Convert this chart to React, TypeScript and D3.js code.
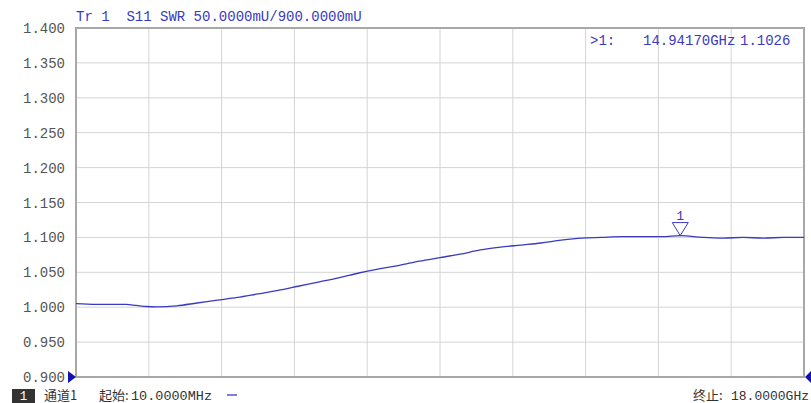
import * as d3 from "d3";

// trace data (GHz, SWR)
const freqs = [
  0.01, 0.5, 1.0, 1.25, 1.5, 1.75, 2.0, 2.5, 3.0, 3.5, 4.0, 4.5, 5.0, 5.5, 6.0, 6.5, 7.0, 7.5,
  8.0, 8.5, 9.0, 9.5, 10.0, 10.5, 11.0, 11.5, 12.0, 12.5, 13.0, 13.5, 14.0, 14.5, 14.9417,
  15.5, 16.0, 16.5, 17.0, 17.5, 18.0,
];
const swr = [
  1.005, 1.004, 1.004, 1.004, 1.0025, 1.001, 1.0005, 1.002, 1.006, 1.01, 1.014, 1.019, 1.024,
  1.03, 1.036, 1.042, 1.049, 1.055, 1.06, 1.066, 1.071, 1.076, 1.082, 1.086, 1.089, 1.092,
  1.096, 1.099, 1.1, 1.101, 1.101, 1.101, 1.1026, 1.1, 1.099, 1.1, 1.099, 1.1, 1.1,
];
const yTicks = [0.9, 0.95, 1.0, 1.05, 1.1, 1.15, 1.2, 1.25, 1.3, 1.35, 1.4];
const xDivisions = 10;
const markerFreq = 14.9417;
const markerVal = 1.1026;

const W = 811;
const H = 403;
const left = 76;
const right = 804;
const top = 28;
const bottom = 377;
const blue = "#3a3ac0";
const mono = "Liberation Mono, DejaVu Sans Mono, monospace";
const cjk = "Noto Sans CJK SC, sans-serif";

export default function App() {
  const x = d3.scaleLinear().domain([0.01, 18]).range([left, right]);
  const y = d3.scaleLinear().domain([0.9, 1.4]).range([bottom, top]);
  const xGrid = d3.range(1, xDivisions).map((i) => left + ((right - left) * i) / xDivisions);

  const line = d3
    .line<number>()
    .x((_, i) => x(freqs[i]))
    .y((d) => y(d))
    .curve(d3.curveMonotoneX);

  const mx = x(markerFreq);
  const my = y(markerVal);

  return (
    <svg
      width={W}
      height={H}
      style={{ position: "absolute", left: 0, top: 0, background: "#fff" }}
    >
      {/* grid */}
      {yTicks.slice(1, -1).map((t) => (
        <line key={t} x1={left} x2={right} y1={y(t)} y2={y(t)} stroke="#d4d4d4" />
      ))}
      {xGrid.map((gx) => (
        <line key={gx} x1={gx} x2={gx} y1={top} y2={bottom} stroke="#d4d4d4" />
      ))}
      <rect
        x={left}
        y={top}
        width={right - left}
        height={bottom - top}
        fill="none"
        stroke="#a8a8a8"
        strokeWidth={2}
      />

      {/* y tick labels */}
      {yTicks.map((t) => (
        <text
          key={t}
          x={65}
          y={y(t) + 5}
          textAnchor="end"
          style={{ fontFamily: mono, fontSize: 14 }}
          fill="#555"
        >
          {t.toFixed(3)}
        </text>
      ))}

      {/* header */}
      <text x={76} y={21} style={{ fontFamily: mono, fontSize: 14, whiteSpace: "pre" }} fill={blue}>
        {"Tr 1  S11 SWR 50.0000mU/900.0000mU"}
      </text>
      <text x={590} y={45} style={{ fontFamily: mono, fontSize: 14 }} fill={blue}>
        {">1:"}
      </text>
      <text x={643} y={45} style={{ fontFamily: mono, fontSize: 14 }} fill={blue}>
        14.94170GHz
      </text>
      <text x={740} y={45} style={{ fontFamily: mono, fontSize: 14 }} fill={blue}>
        1.1026
      </text>

      {/* trace */}
      <path d={line(swr) ?? ""} fill="none" stroke={blue} strokeWidth={1.3} />

      {/* marker */}
      <path
        d={`M${mx},${my} L${mx - 8},${my - 13} L${mx + 8},${my - 13} Z`}
        fill="none"
        stroke={blue}
        strokeWidth={1}
      />
      <text
        x={mx}
        y={my - 16}
        textAnchor="middle"
        style={{ fontFamily: mono, fontSize: 13 }}
        fill={blue}
      >
        1
      </text>

      {/* reference arrows */}
      <path d={`M${left - 8},${bottom - 6} L${left},${bottom} L${left - 8},${bottom + 6} Z`} fill="#1010b0" />
      <path d={`M${W},${bottom - 6} L${right + 1},${bottom} L${W},${bottom + 6} Z`} fill="#1010b0" />

      {/* bottom status line */}
      <rect x={12} y={389} width={23} height={14} fill="#333" />
      <text x={23.5} y={400} textAnchor="middle" style={{ fontFamily: mono, fontSize: 12.5 }} fill="#fff">
        1
      </text>
      <text x={44} y={400} style={{ fontFamily: cjk, fontSize: 13 }} fill="#333">
        通道1
      </text>
      <text x={99} y={400} style={{ fontFamily: cjk, fontSize: 13 }} fill="#333">
        起始:
      </text>
      <text x={131} y={400} style={{ fontFamily: mono, fontSize: 13.5 }} fill="#333">
        10.0000MHz
      </text>
      <line x1={227} x2={237} y1={395} y2={395} stroke={blue} strokeWidth={1.3} />
      <text x={693} y={400} style={{ fontFamily: cjk, fontSize: 13 }} fill="#333">
        终止:
      </text>
      <text x={809} y={400} textAnchor="end" style={{ fontFamily: mono, fontSize: 13 }} fill="#333">
        18.0000GHz
      </text>
    </svg>
  );
}
